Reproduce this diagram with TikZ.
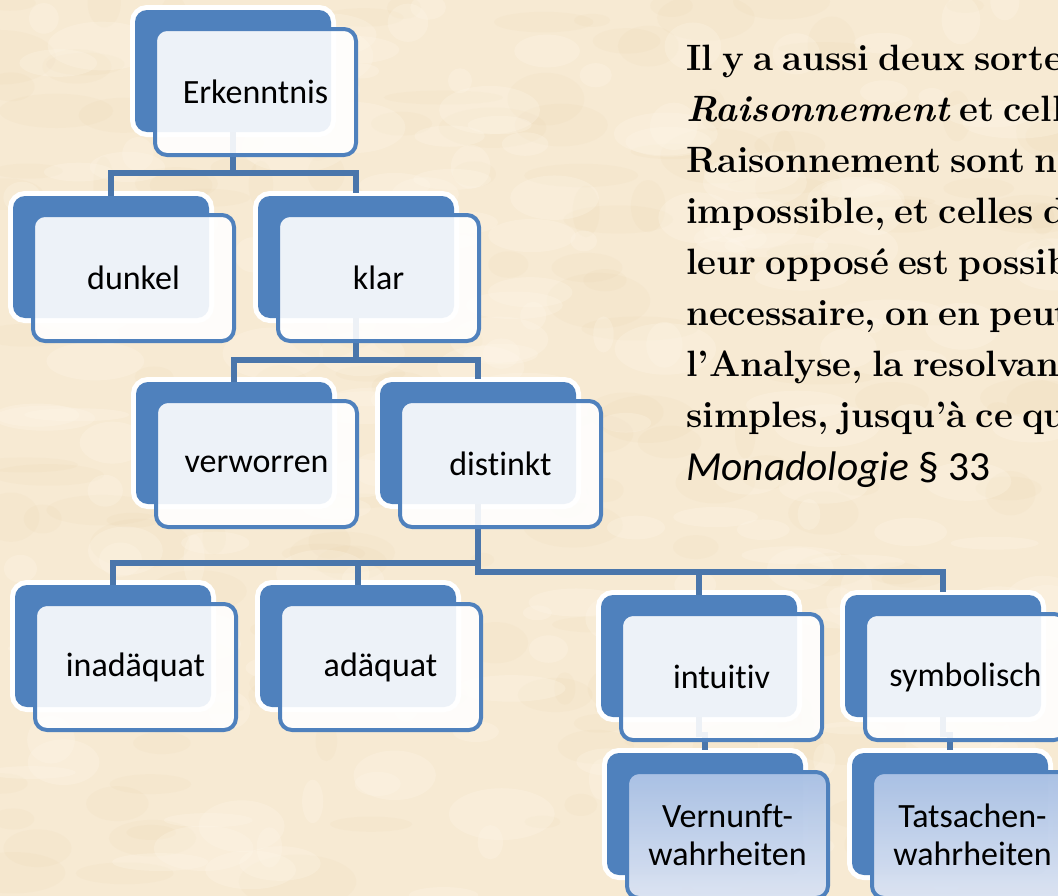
\documentclass[tikz,border=0pt]{standalone}
\usepackage{fontspec}
\newfontfamily\calibri[Ligatures=NoCommon]{Carlito}
\usetikzlibrary{calc}
\definecolor{boxblue}{HTML}{4F81BD}
\definecolor{connblue}{HTML}{4A76AB}
\definecolor{paper}{HTML}{F7EAD3}
\definecolor{blot}{HTML}{E3C694}
\definecolor{light}{HTML}{FFF8EC}
\definecolor{gradtop}{HTML}{A2BBE2}
\definecolor{gradbot}{HTML}{D8E1F1}
\newcommand\mkback[3]{\node[backbox] (#1B) at (#2+98,#3+61) {};}
\newcommand\mkfront[5]{\node[#5] (#1) at (#2+120.5,#3+82) {#4};}
\newcommand\quotefont{\fontsize{27.5}{32}\selectfont\bfseries
  \spaceskip=0.25em plus 0.05em\relax}
\begin{document}
\begin{tikzpicture}[x=0.75pt,y=-0.75pt,
  backbox/.style={fill=boxblue, rounded corners=9pt, minimum width=147pt,
    minimum height=91.5pt, inner sep=0pt,
    preaction={draw=white, line width=7.5pt}},
  frontbox/.style={draw=boxblue, line width=3pt, fill=white, fill opacity=0.9,
    text opacity=1, rounded corners=9pt, minimum width=150.75pt,
    minimum height=94.5pt, inner sep=0pt, align=center,
    font=\calibri\fontsize{25.5}{28.5}\selectfont},
  gradbox/.style={frontbox, top color=gradtop, bottom color=gradbot},
  conn/.style={draw=connblue, line width=3.9pt, shorten >=2pt},
  quote/.style={anchor=base west, inner sep=0pt, font=\quotefont},
]
\useasboundingbox (0,0) rectangle (1058,896);
\clip (0,0) rectangle (1058,896);
\fill[paper] (0,0) rectangle (1058,896);
\pgfmathsetseed{11}
\foreach \i in {1,...,200}{
  \pgfmathsetmacro\xx{rnd*1058}
  \pgfmathsetmacro\yy{rnd*896}
  \pgfmathsetmacro\rx{10+rnd*50}
  \pgfmathsetmacro\ry{6+rnd*22}
  \fill[blot, opacity=0.07] (\xx,\yy) ellipse [x radius=\rx, y radius=\ry];
}
\foreach \i in {1,...,200}{
  \pgfmathsetmacro\xx{rnd*1058}
  \pgfmathsetmacro\yy{rnd*896}
  \pgfmathsetmacro\rx{10+rnd*45}
  \pgfmathsetmacro\ry{6+rnd*20}
  \fill[light, opacity=0.25] (\xx,\yy) ellipse [x radius=\rx, y radius=\ry];
}
% back boxes
\mkback{erk}{135}{10}
\mkback{dun}{13}{196}
\mkback{kla}{258}{196}
\mkback{ver}{136}{382}
\mkback{dis}{380}{382}
\mkback{ina}{15}{585}
\mkback{ada}{260}{585}
\mkback{int}{601}{595}
\mkback{sym}{845}{595}
\mkback{vern}{607}{753}
\mkback{tats}{852}{753}
% bars
\coordinate (bar1) at (0,173);
\coordinate (bar2) at (0,360);
\coordinate (bar3) at (0,563);
\coordinate (bar4) at (0,572);
% connectors
\draw[conn] (erkB.south) -- (erkB.south |- bar1);
\draw[conn] (dunB.north) |- (klaB.north |- bar1) -- (klaB.north);
\draw[conn] (klaB.south) -- (klaB.south |- bar2);
\draw[conn] (verB.north) |- (disB.north |- bar2) -- (disB.north);
\draw[conn] (disB.south) -- (disB.south |- bar4) -| (symB.north);
\draw[conn] (intB.north) -- (intB.north |- bar4);
\draw[conn] (inaB.north) |- (disB.south |- bar3);
\draw[conn] (adaB.north) -- (adaB.north |- bar3);
\draw[conn] (intB.south) |- ($(vernB.north)+(0,-18)$) -- (vernB.north);
\draw[conn] (symB.south) |- ($(tatsB.north)+(0,-18)$) -- (tatsB.north);
% front boxes
\mkfront{erk}{135}{10}{Erkenntnis}{frontbox}
\mkfront{dun}{13}{196}{dunkel}{frontbox}
\mkfront{kla}{258}{196}{klar}{frontbox}
\mkfront{ver}{136}{382}{verworren}{frontbox}
\mkfront{dis}{380}{382}{distinkt}{frontbox}
\mkfront{ina}{15}{585}{inadäquat}{frontbox}
\mkfront{ada}{260}{585}{adäquat}{frontbox}
\mkfront{int}{601}{595}{intuitiv}{frontbox}
\mkfront{sym}{845}{595}{symbolisch}{frontbox}
\mkfront{vern}{607}{753}{Vernunft-\\wahrheiten}{gradbox}
\mkfront{tats}{852}{753}{Tatsachen-\\wahrheiten}{gradbox}
% quote
\node[quote] (q1) at (686,70) {Il y a aussi deux sorte};
\node[quote] (q2) at (686,121) {\textit{Raisonnement} et celle};
\node[quote] (q3) at (686,172) {Raisonnement sont n};
\node[quote] (q4) at (686,223) {impossible, et celles d};
\node[quote] (q5) at (686,274) {leur opposé est possib};
\node[quote] (q6) at (686,325) {necessaire, on en peut};
\node[quote] (q7) at (686,376) {l’Analyse, la resolvan};
\node[quote] (q8) at (686,427) {simples, jusqu’à ce qu};
\node[anchor=base west, inner sep=0pt, font=\calibri\fontsize{31}{35}\selectfont]
  (src) at (686,480) {\textit{Monadologie} § 33};
\end{tikzpicture}
\end{document}
